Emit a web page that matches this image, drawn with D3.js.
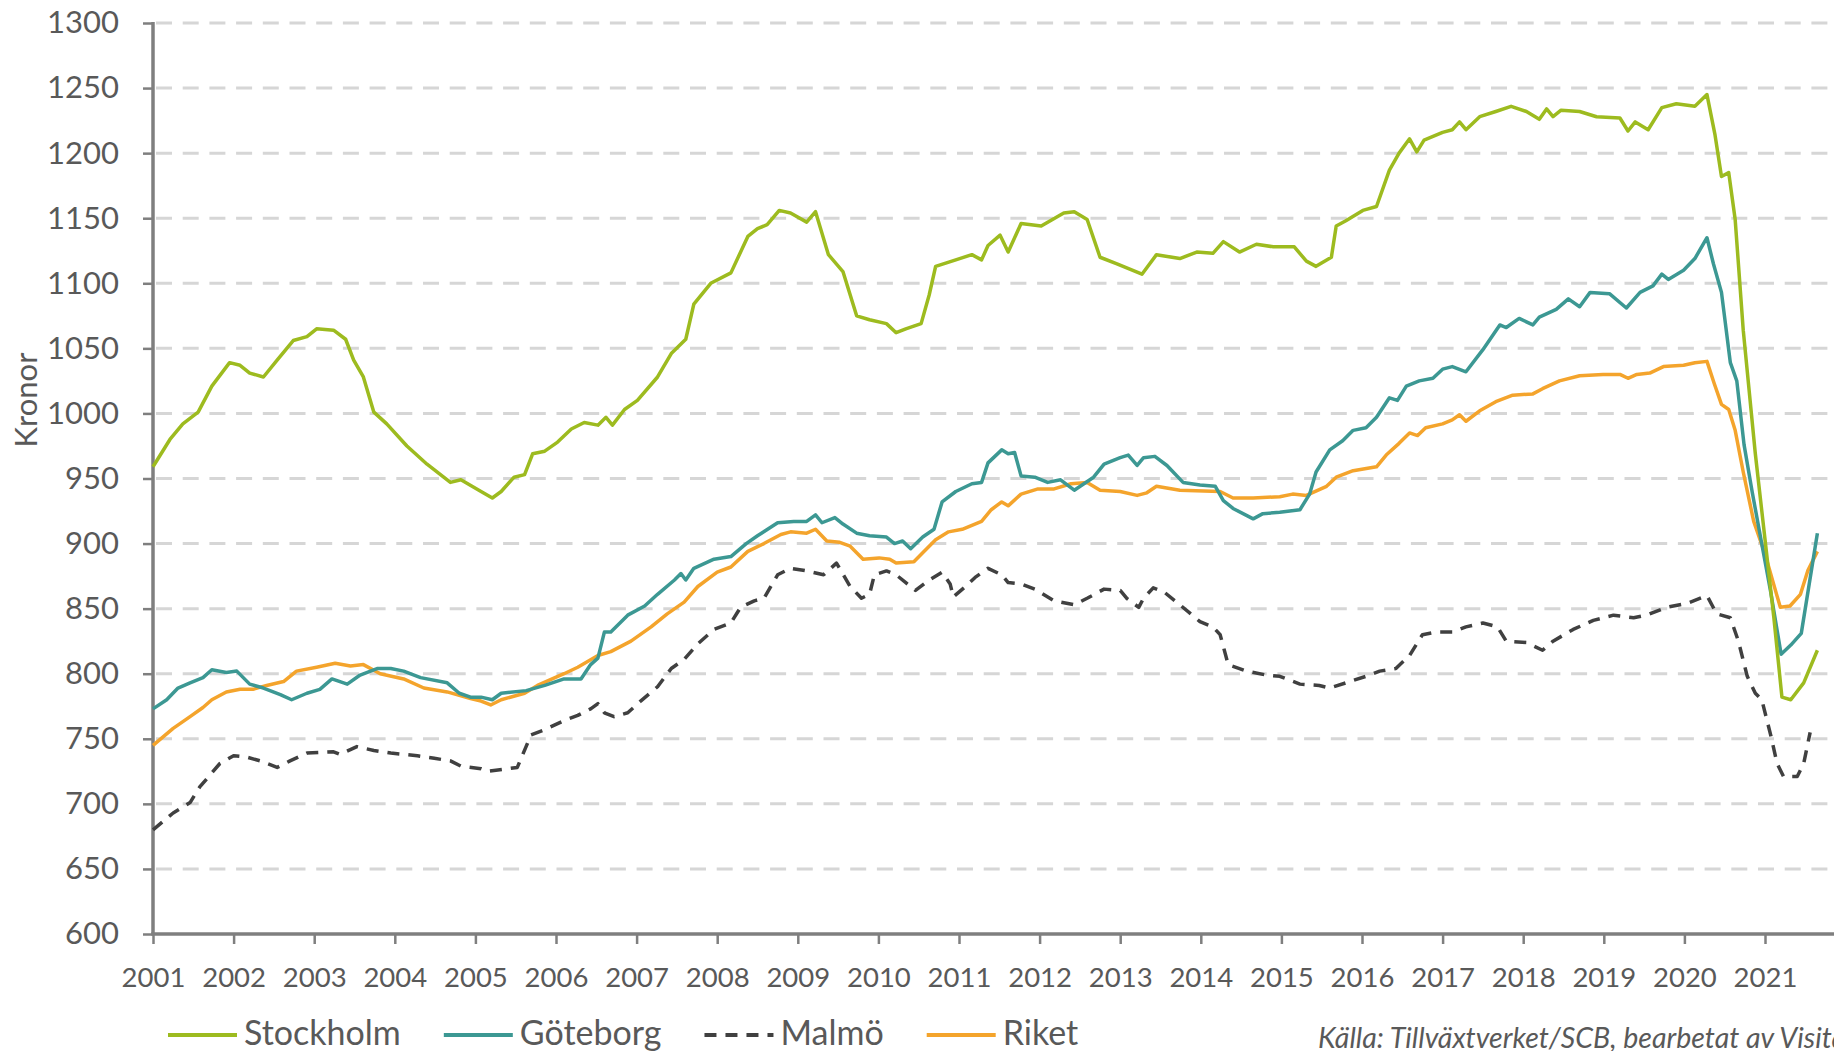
<!DOCTYPE html>
<html>
<head>
<meta charset="utf-8">
<script src="https://cdn.jsdelivr.net/npm/d3@7"></script>
<style>
  body { margin: 0; background: #fff; }
  svg { display: block; font-family: Lato, 'Open Sans', sans-serif; }
</style>
</head>
<body>
<svg id="chart" width="1834" height="1051"></svg>
<script>
// values, [year as decimal, kronor]
const stockholm = [[2001.00,959],[2001.21,980],[2001.37,992],[2001.56,1001],[2001.73,1021],[2001.95,1039],[2002.08,1037],[2002.20,1031],[2002.37,1028],[2002.54,1041],[2002.74,1056],[2002.91,1059],[2003.03,1065],[2003.24,1064],[2003.39,1057],[2003.49,1041],[2003.61,1028],[2003.74,1001],[2003.90,992],[2004.15,975],[2004.40,961],[2004.69,947],[2004.82,949],[2005.07,940],[2005.21,935],[2005.32,940],[2005.48,951],[2005.61,953],[2005.71,969],[2005.86,971],[2006.02,978],[2006.19,988],[2006.35,993],[2006.52,991],[2006.62,997],[2006.70,991],[2006.85,1003],[2007.01,1010],[2007.26,1028],[2007.43,1046],[2007.61,1057],[2007.71,1084],[2007.92,1100],[2008.17,1108],[2008.38,1136],[2008.50,1142],[2008.62,1145],[2008.77,1156],[2008.91,1154],[2009.11,1147],[2009.22,1155],[2009.38,1122],[2009.56,1109],[2009.73,1075],[2009.89,1072],[2010.10,1069],[2010.22,1062],[2010.34,1065],[2010.53,1069],[2010.63,1091],[2010.71,1113],[2010.96,1118],[2011.16,1122],[2011.28,1118],[2011.36,1129],[2011.51,1137],[2011.61,1124],[2011.77,1146],[2012.02,1144],[2012.30,1154],[2012.43,1155],[2012.59,1149],[2012.75,1120],[2012.96,1115],[2013.27,1107],[2013.45,1122],[2013.74,1119],[2013.95,1124],[2014.15,1123],[2014.28,1132],[2014.48,1124],[2014.69,1130],[2014.90,1128],[2015.16,1128],[2015.31,1117],[2015.43,1113],[2015.62,1120],[2015.68,1144],[2015.80,1148],[2016.01,1156],[2016.18,1159],[2016.34,1187],[2016.46,1200],[2016.59,1211],[2016.68,1201],[2016.77,1210],[2017.00,1216],[2017.12,1218],[2017.21,1224],[2017.29,1218],[2017.46,1228],[2017.66,1232],[2017.85,1236],[2018.04,1232],[2018.20,1226],[2018.29,1234],[2018.37,1228],[2018.47,1233],[2018.70,1232],[2018.91,1228],[2019.20,1227],[2019.30,1217],[2019.39,1224],[2019.55,1218],[2019.72,1235],[2019.90,1238],[2020.13,1236],[2020.28,1245],[2020.38,1214],[2020.46,1182],[2020.55,1185],[2020.63,1149],[2020.73,1064],[2020.88,969],[2021.11,843],[2021.21,782],[2021.32,780],[2021.48,793],[2021.65,818]];

const goteborg = [[2001.00,773],[2001.17,780],[2001.31,789],[2001.46,793],[2001.62,797],[2001.73,803],[2001.91,801],[2002.04,802],[2002.20,792],[2002.37,789],[2002.58,784],[2002.72,780],[2002.91,785],[2003.07,788],[2003.22,796],[2003.41,792],[2003.57,799],[2003.78,804],[2003.95,804],[2004.11,802],[2004.32,797],[2004.65,793],[2004.80,785],[2004.94,782],[2005.07,782],[2005.21,780],[2005.32,785],[2005.63,787],[2005.86,791],[2006.10,796],[2006.31,796],[2006.43,807],[2006.52,812],[2006.60,832],[2006.68,832],[2006.89,845],[2007.10,852],[2007.26,861],[2007.47,872],[2007.55,877],[2007.61,872],[2007.71,881],[2007.96,888],[2008.17,890],[2008.36,900],[2008.50,906],[2008.75,916],[2008.95,917],[2009.11,917],[2009.22,922],[2009.30,916],[2009.46,920],[2009.56,915],[2009.73,908],[2009.89,906],[2010.10,905],[2010.20,900],[2010.30,902],[2010.40,896],[2010.55,905],[2010.69,911],[2010.79,932],[2010.96,940],[2011.16,946],[2011.28,947],[2011.36,962],[2011.53,972],[2011.61,969],[2011.69,970],[2011.77,952],[2011.94,951],[2012.10,947],[2012.26,949],[2012.43,941],[2012.55,946],[2012.67,951],[2012.80,961],[2013.00,966],[2013.10,968],[2013.21,960],[2013.29,966],[2013.43,967],[2013.58,960],[2013.78,947],[2013.99,945],[2014.18,944],[2014.28,933],[2014.40,927],[2014.65,919],[2014.77,923],[2014.98,924],[2015.23,926],[2015.35,938],[2015.43,955],[2015.60,972],[2015.76,979],[2015.89,987],[2016.05,989],[2016.18,997],[2016.34,1012],[2016.44,1010],[2016.55,1021],[2016.71,1025],[2016.88,1027],[2017.00,1034],[2017.12,1036],[2017.29,1032],[2017.50,1049],[2017.71,1068],[2017.79,1066],[2017.95,1073],[2018.12,1068],[2018.20,1074],[2018.41,1080],[2018.56,1088],[2018.70,1082],[2018.83,1093],[2019.07,1092],[2019.28,1081],[2019.45,1093],[2019.61,1098],[2019.72,1107],[2019.80,1103],[2019.99,1110],[2020.13,1119],[2020.28,1135],[2020.36,1115],[2020.46,1093],[2020.57,1039],[2020.65,1025],[2020.74,976],[2020.84,940],[2021.07,863],[2021.20,815],[2021.32,822],[2021.45,831],[2021.65,908]];

const malmo = [[2001.00,680],[2001.25,693],[2001.46,701],[2001.58,713],[2001.83,731],[2002.00,737],[2002.16,736],[2002.33,733],[2002.54,728],[2002.70,733],[2002.91,739],[2003.24,740],[2003.32,738],[2003.53,744],[2003.74,741],[2003.95,739],[2004.28,737],[2004.49,735],[2004.69,733],[2004.82,729],[2005.07,727],[2005.15,725],[2005.40,727],[2005.52,728],[2005.69,753],[2005.86,757],[2006.10,764],[2006.27,768],[2006.43,773],[2006.52,777],[2006.60,770],[2006.72,767],[2006.89,770],[2007.05,779],[2007.26,790],[2007.43,804],[2007.59,811],[2007.76,823],[2007.96,834],[2008.17,839],[2008.29,851],[2008.46,856],[2008.58,858],[2008.75,876],[2008.91,881],[2009.11,879],[2009.32,876],[2009.48,885],[2009.65,867],[2009.79,858],[2009.89,861],[2009.95,876],[2010.10,879],[2010.22,876],[2010.34,870],[2010.46,864],[2010.63,872],[2010.79,878],[2010.89,869],[2010.93,859],[2011.08,867],[2011.20,874],[2011.36,881],[2011.53,876],[2011.61,870],[2011.77,869],[2011.94,865],[2012.18,856],[2012.43,853],[2012.59,858],[2012.80,865],[2013.00,864],[2013.08,858],[2013.23,851],[2013.29,858],[2013.41,866],[2013.54,863],[2013.74,853],[2013.99,840],[2014.15,836],[2014.24,830],[2014.34,807],[2014.57,802],[2014.81,799],[2014.98,798],[2015.23,792],[2015.47,791],[2015.60,789],[2015.80,793],[2016.05,798],[2016.22,802],[2016.42,804],[2016.59,814],[2016.75,830],[2016.92,832],[2017.12,832],[2017.29,836],[2017.50,839],[2017.68,836],[2017.79,825],[2018.04,824],[2018.24,818],[2018.37,825],[2018.62,834],[2018.87,841],[2019.12,845],[2019.37,843],[2019.53,845],[2019.78,851],[2020.03,854],[2020.28,860],[2020.40,846],[2020.57,843],[2020.67,825],[2020.78,798],[2020.88,785],[2020.96,780],[2021.07,753],[2021.15,731],[2021.23,721],[2021.40,721],[2021.48,731],[2021.56,755]];

const riket = [[2001.00,745],[2001.25,758],[2001.46,767],[2001.62,774],[2001.73,780],[2001.91,786],[2002.08,788],[2002.24,788],[2002.41,791],[2002.62,794],[2002.78,802],[2003.03,805],[2003.26,808],[2003.45,806],[2003.61,807],[2003.82,800],[2004.11,796],[2004.36,789],[2004.65,786],[2004.94,781],[2005.07,779],[2005.19,776],[2005.32,780],[2005.61,785],[2005.77,791],[2006.10,800],[2006.27,805],[2006.52,814],[2006.68,817],[2006.93,825],[2007.18,836],[2007.38,846],[2007.59,855],[2007.76,867],[2008.00,878],[2008.17,882],[2008.38,894],[2008.58,900],[2008.79,907],[2008.91,909],[2009.11,908],[2009.22,911],[2009.36,902],[2009.52,901],[2009.65,898],[2009.81,888],[2010.01,889],[2010.14,888],[2010.22,885],[2010.44,886],[2010.55,893],[2010.71,903],[2010.87,909],[2011.04,911],[2011.28,917],[2011.40,926],[2011.53,932],[2011.61,929],[2011.77,938],[2011.98,942],[2012.18,942],[2012.39,946],[2012.59,947],[2012.75,941],[2013.00,940],[2013.21,937],[2013.33,939],[2013.45,944],[2013.74,941],[2014.24,940],[2014.40,935],[2014.65,935],[2014.98,936],[2015.14,938],[2015.31,937],[2015.56,944],[2015.68,951],[2015.89,956],[2016.18,959],[2016.30,968],[2016.46,977],[2016.59,985],[2016.69,983],[2016.79,989],[2017.00,992],[2017.12,995],[2017.21,999],[2017.29,994],[2017.46,1002],[2017.66,1009],[2017.87,1014],[2018.12,1015],[2018.24,1019],[2018.45,1025],[2018.70,1029],[2018.99,1030],[2019.20,1030],[2019.30,1027],[2019.41,1030],[2019.57,1031],[2019.74,1036],[2019.99,1037],[2020.13,1039],[2020.28,1040],[2020.37,1023],[2020.46,1007],[2020.55,1003],[2020.63,987],[2020.73,955],[2020.86,917],[2021.00,892],[2021.19,851],[2021.31,852],[2021.44,861],[2021.53,879],[2021.65,894]];

const seriesNames = ['Stockholm', 'Göteborg', 'Malmö', 'Riket'];
const seriesColors = ['#9dbb1f', '#3c9893', '#404040', '#f4a42c'];
const yTicks = d3.range(600, 1301, 50);
const yearTicks = d3.range(2001, 2022);
const source = 'Källa: Tillväxtverket/SCB, bearbetat av Visita';

const width = 1834, height = 1051;
const svg = d3.select('#chart');

let x = d3.scaleLinear().domain([2001, 2021]).range([153, 1765]);
let y = d3.scaleLinear().domain([600, 1300]).range([934, 23]);

// dashed horizontal gridlines
svg.append('g')
  .selectAll('line')
  .data(yTicks.filter((d) => d > 600))
  .join('line')
  .attr('x1', x(2001) + 3)
  .attr('x2', width)
  .attr('y1', (d) => y(d))
  .attr('y2', (d) => y(d))
  .attr('stroke', '#d6d6d6')
  .attr('stroke-width', 3)
  .attr('stroke-dasharray', '16,10.7');

// axes
let yAxis = d3.axisLeft(y).tickValues(yTicks).tickSize(10).tickPadding(24).tickFormat(d3.format('d'));
let gy = svg.append('g').attr('transform', `translate(${x(2001)},0)`).call(yAxis);
gy.select('.domain').attr('stroke', '#7f7f7f').attr('stroke-width', 3.5).attr('d', `M0,${y(1300) - 1}V${y(600)}`);
gy.selectAll('.tick line').attr('stroke', '#7f7f7f').attr('stroke-width', 2.5);
gy.selectAll('.tick text').attr('fill', '#595959').attr('font-size', 31).attr('font-family', 'Lato');

let xAxis = d3.axisBottom(x).tickValues(yearTicks).tickSize(10).tickPadding(23).tickFormat(d3.format('d'));
let gx = svg.append('g').attr('transform', `translate(0,${y(600)})`).call(xAxis);
gx.select('.domain').attr('stroke', '#7f7f7f').attr('stroke-width', 3.5).attr('d', `M${x(2001) - 1.75},0H${width}`);
gx.selectAll('.tick line').attr('stroke', '#7f7f7f').attr('stroke-width', 2.5);
gx.selectAll('.tick text').attr('fill', '#595959').attr('font-size', 27.5).attr('font-family', 'Lato');

svg.append('text')
  .attr('transform', `translate(37,400) rotate(-90)`)
  .attr('text-anchor', 'middle')
  .attr('fill', '#595959')
  .attr('font-size', 31)
  .text('Kronor');

// lines
let line = d3.line().x((d) => x(d[0])).y((d) => y(d[1]));
let allSeries = [stockholm, goteborg, malmo, riket];
let drawOrder = [2, 3, 1, 0];
drawOrder.forEach((i) => {
  svg.append('path')
    .attr('d', line(allSeries[i]))
    .attr('fill', 'none')
    .attr('stroke', seriesColors[i])
    .attr('stroke-width', 3.5)
    .attr('stroke-linejoin', 'round')
    .attr('stroke-dasharray', i === 2 ? '12,9' : null);
});

// legend
let legend = svg.append('g').attr('transform', 'translate(168,1035)');
let lx = 0;
seriesNames.forEach((name, i) => {
  legend.append('line')
    .attr('x1', lx).attr('x2', lx + 69)
    .attr('y1', 0).attr('y2', 0)
    .attr('stroke', seriesColors[i])
    .attr('stroke-width', 4)
    .attr('stroke-dasharray', i === 2 ? '12,9' : null);
  let t = legend.append('text')
    .attr('x', lx + 76)
    .attr('y', 10)
    .attr('fill', '#595959')
    .attr('font-size', 34)
    .text(name);
  lx += 76 + t.node().getComputedTextLength() + 43;
});

svg.append('text')
  .attr('x', 1318)
  .attr('y', 1048)
  .attr('fill', '#595959')
  .attr('font-size', 28.5)
  .attr('font-style', 'italic')
  .text(source);
</script>
</body>
</html>
